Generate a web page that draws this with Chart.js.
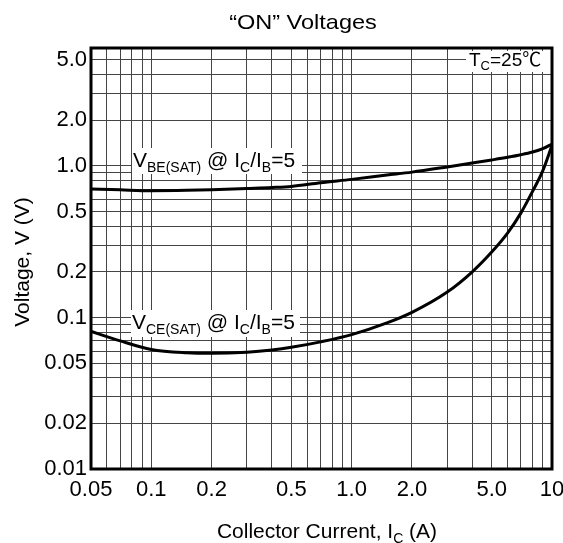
<!DOCTYPE html>
<html>
<head>
<meta charset="utf-8">
<script src="https://cdn.jsdelivr.net/npm/chart.js@4/dist/chart.umd.min.js"></script>
<style>
html,body{margin:0;padding:0;background:#fff;}
#wrap{width:563px;height:543px;position:relative;}
</style>
</head>
<body>
<div id="wrap"><canvas id="c" width="563" height="543"></canvas></div>
<script>
// Collector current (A)
const currents = [0.05,0.07,0.1,0.15,0.2,0.3,0.4,0.5,0.7,1,1.5,2,3,4,5,6,7,8,9,10];
// VBE(SAT) @ IC/IB=5 (V)
const vbeSat = [0.705,0.695,0.686,0.69,0.697,0.71,0.72,0.732,0.775,0.815,0.87,0.91,0.985,1.045,1.095,1.14,1.185,1.235,1.3,1.395];
// VCE(SAT) @ IC/IB=5 (V)
const vceSat = [0.081,0.07,0.0615,0.0585,0.058,0.059,0.061,0.0635,0.069,0.077,0.092,0.108,0.147,0.2,0.27,0.36,0.49,0.68,0.93,1.37];

const xGridValues = [0.05,0.06,0.07,0.08,0.09,0.1,0.2,0.3,0.4,0.5,0.6,0.7,0.8,0.9,1,2,3,4,5,6,7,8,9,10];
const xTickLabels = {0.05:'0.05',0.1:'0.1',0.2:'0.2',0.5:'0.5',1:'1.0',2:'2.0',5:'5.0',10:'10'};
const yGridValues = [0.01,0.02,0.03,0.04,0.05,0.06,0.07,0.08,0.09,0.1,0.2,0.3,0.4,0.5,0.6,0.7,0.8,0.9,1,2,3,4,5,6];
const yTickLabels = {0.01:'0.01',0.02:'0.02',0.05:'0.05',0.1:'0.1',0.2:'0.2',0.5:'0.5',1:'1.0',2:'2.0',5:'5.0'};

const FONT = '"Liberation Sans", Arial, sans-serif';
const CJK = '"Noto Sans CJK SC", "Liberation Sans", sans-serif';

function key(v){ return String(+v.toPrecision(6)); }

function drawRich(ctx, x, y, segs, align, size){
  const subSize = Math.round(size*0.66);
  let w = 0;
  const fontOf = s => (s.sub?subSize:size)+'px '+(s.cjk?CJK:FONT);
  segs.forEach(s=>{ ctx.font = fontOf(s); w += ctx.measureText(s.t).width; });
  let cx = align==='center' ? x - w/2 : x;
  ctx.textBaseline = 'alphabetic';
  ctx.textAlign = 'left';
  segs.forEach(s=>{
    ctx.font = fontOf(s);
    ctx.fillText(s.t, cx, s.sub ? y + size*0.22 : y);
    cx += ctx.measureText(s.t).width;
  });
  return w;
}

const overlay = {
  id:'overlay',
  afterDatasetsDraw(chart){
    const ctx = chart.ctx;
    const a = chart.chartArea;
    ctx.save();
    function labelBox(x0,y0,x1,y1){ ctx.fillStyle='#fff'; ctx.fillRect(x0,y0,x1-x0,y1-y0); }
    labelBox(132, 148, 302, 174);
    labelBox(131, 310, 300, 337);
    labelBox(466, 51, a.right-1, 72);
    ctx.fillStyle = '#000';
    drawRich(ctx, 133, 167, [{t:'V'},{t:'BE(SAT)',sub:true},{t:' @ I'},{t:'C',sub:true},{t:'/I'},{t:'B',sub:true},{t:'=5'}], 'left', 21);
    drawRich(ctx, 132, 329, [{t:'V'},{t:'CE(SAT)',sub:true},{t:' @ I'},{t:'C',sub:true},{t:'/I'},{t:'B',sub:true},{t:'=5'}], 'left', 21);
    drawRich(ctx, 469, 66, [{t:'T'},{t:'C',sub:true},{t:'=25'},{t:'℃',cjk:true}], 'left', 19);
    // frame
    ctx.strokeStyle = '#000';
    ctx.lineWidth = 3;
    ctx.strokeRect(a.left, a.top, a.right-a.left, a.bottom-a.top);
    // titles
    ctx.fillStyle = '#000';
    ctx.save();
    ctx.translate(303, 29);
    ctx.scale(1.12, 1);
    ctx.font = '21px '+FONT;
    ctx.textAlign = 'center';
    ctx.textBaseline = 'alphabetic';
    ctx.fillText('\u201CON\u201D Voltages', 0, 0);
    ctx.restore();
    drawRich(ctx, 327, 538, [{t:'Collector Current, I'},{t:'C',sub:true},{t:' (A)'}], 'center', 21);
    ctx.save();
    ctx.translate(29, 262);
    ctx.rotate(-Math.PI/2);
    ctx.font = '21px '+FONT;
    ctx.textAlign = 'center';
    ctx.fillText('Voltage, V (V)', 0, 0);
    ctx.restore();
    ctx.restore();
  }
};

new Chart(document.getElementById('c'), {
  type:'line',
  data:{
    datasets:[
      {label:'VBE(SAT)', data: currents.map((x,i)=>({x, y:vbeSat[i]})), borderColor:'#000', borderWidth:3, pointRadius:0, cubicInterpolationMode:'monotone', fill:false},
      {label:'VCE(SAT)', data: currents.map((x,i)=>({x, y:vceSat[i]})), borderColor:'#000', borderWidth:3, pointRadius:0, cubicInterpolationMode:'monotone', fill:false}
    ]
  },
  options:{
    responsive:false,
    animation:false,
    devicePixelRatio:1,
    layout:{padding:{top:48, right:11, left:0, bottom:0}},
    plugins:{legend:{display:false}, tooltip:{enabled:false}, title:{display:false}},
    scales:{
      x:{
        type:'logarithmic', min:0.05, max:10,
        afterBuildTicks(s){ s.ticks = xGridValues.map(v=>({value:v})); },
        afterFit(s){ s.height = 74; s.paddingLeft = 0; s.paddingRight = 0; },
        grid:{color:'#444', lineWidth:1, drawTicks:false},
        border:{display:false},
        ticks:{autoSkip:false, maxRotation:0, minRotation:0, padding:8, color:'#000', font:{family:FONT, size:22},
          callback(v){ return xTickLabels[key(v)] || ''; }}
      },
      y:{
        type:'logarithmic', min:0.01, max:6,
        afterBuildTicks(s){ s.ticks = yGridValues.map(v=>({value:v})); },
        afterFit(s){ s.width = 91; s.paddingTop = 0; s.paddingBottom = 0; },
        grid:{color:'#444', lineWidth:1, drawTicks:false},
        border:{display:false},
        ticks:{autoSkip:false, padding:4, color:'#000', font:{family:FONT, size:22},
          callback(v){ return yTickLabels[key(v)] || ''; }}
      }
    }
  },
  plugins:[overlay]
});
</script>
</body>
</html>
